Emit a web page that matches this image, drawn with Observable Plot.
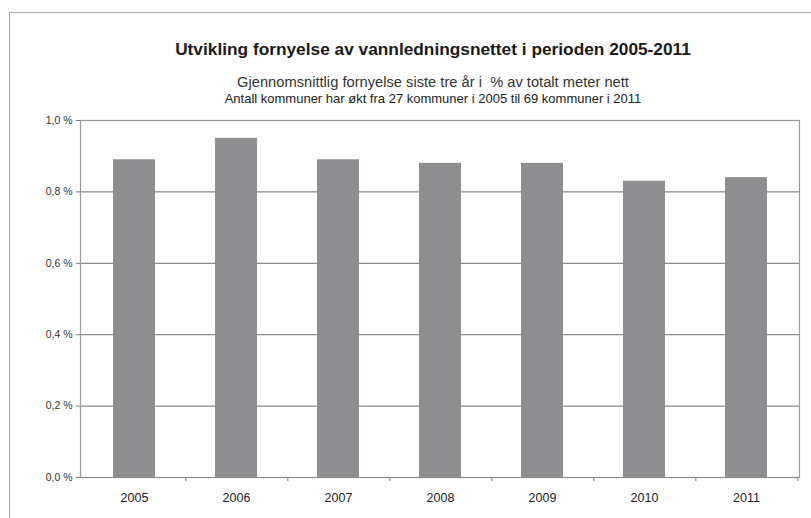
<!DOCTYPE html>
<html>
<head>
<meta charset="utf-8">
<script src="https://cdn.jsdelivr.net/npm/d3@7"></script>
<script src="https://cdn.jsdelivr.net/npm/@observablehq/plot@0.6"></script>
<style>
  html, body { margin: 0; padding: 0; background: #fff; }
  #wrap { position: relative; width: 811px; height: 518px; overflow: hidden; font-family: "Liberation Sans", Arial, sans-serif; color: #1a1a1a; }
  #frame { position: absolute; left: 9px; top: 12px; width: 900px; height: 600px; border: 1.5px solid #a8a8a8; box-sizing: border-box; }
  .t { position: absolute; left: 133px; width: 600px; text-align: center; line-height: 1; white-space: pre; }
  #title { top: 40.5px; font-size: 17.3px; font-weight: bold; }
  #sub1 { top: 74.5px; font-size: 14.7px; color: #333; }
  #sub2 { top: 92px; font-size: 13px; color: #222; }
  #chart { position: absolute; left: 0; top: 100px; }
</style>
</head>
<body>
<div id="wrap">
  <div id="frame"></div>
  <div class="t" id="title">Utvikling fornyelse av vannledningsnettet i perioden 2005-2011</div>
  <div class="t" id="sub1">Gjennomsnittlig fornyelse siste tre år i  % av totalt meter nett</div>
  <div class="t" id="sub2">Antall kommuner har økt fra 27 kommuner i 2005 til 69 kommuner i 2011</div>
  <div id="chart"></div>
</div>
<script>
const years = ["2005", "2006", "2007", "2008", "2009", "2010", "2011"];
const values = [0.89, 0.95, 0.89, 0.88, 0.88, 0.83, 0.84];
const yTicks = [0, 0.2, 0.4, 0.6, 0.8, 1.0];

const data = years.map((y, i) => ({year: y, value: values[i]}));
const fmt = d => d.toFixed(1).replace(".", ",") + " %";

const W = 811, H = 418, ML = 80, MR = 12;
const step = (W - ML - MR) / years.length;

const chart = Plot.plot({
  width: W,
  height: H,
  marginTop: 20,
  marginLeft: ML,
  marginRight: MR,
  marginBottom: 41,
  style: {fontFamily: "'Liberation Sans', Arial, sans-serif", color: "#333", background: "transparent"},
  x: {domain: years, paddingInner: 0.59, paddingOuter: 0.295},
  y: {domain: [0, 1.0]},
  marks: [
    Plot.gridY(yTicks, {stroke: "#8a8a8a", strokeOpacity: 1, strokeWidth: 1.2}),
    Plot.frame({stroke: "#9a9a9a", strokeWidth: 1.2}),
    Plot.barY(data, {x: "year", y: "value", fill: "#8c8f8f"}),
    Plot.axisY(yTicks, {tickSize: 4, tickPadding: 4, tickFormat: fmt, fontSize: 10.5, stroke: "#777", fill: "#333", label: null}),
    Plot.axisX({tickSize: 0, tickPadding: 15.6, fontSize: 12.5, fill: "#222", label: null}),
    Plot.axisX({tickSize: 4, text: null, dx: step / 2, stroke: "#777", label: null}),
    Plot.ruleY([0], {stroke: "#8a8a8a", strokeWidth: 1.2})
  ]
});
document.getElementById("chart").appendChild(chart);
</script>
</body>
</html>
